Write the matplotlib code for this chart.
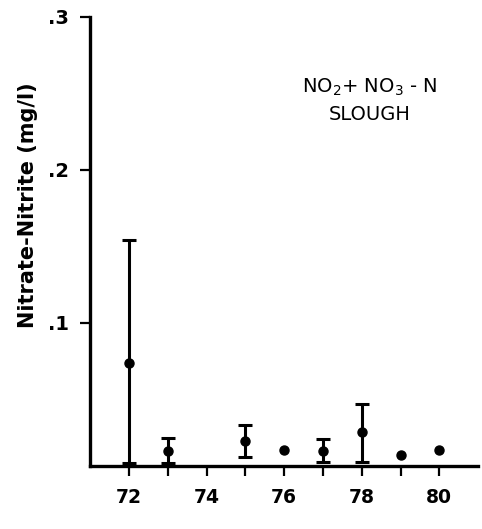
import matplotlib
matplotlib.use('Agg')
import matplotlib.pyplot as plt

years = [72, 73, 75, 76, 77, 78, 79, 80]
means = [0.074, 0.0165, 0.023, 0.017, 0.0165, 0.029, 0.0137, 0.017]
upper = [0.154, 0.0248, 0.0333, None, 0.0242, 0.047, None, None]
lower = [0.0085, 0.0085, 0.0124, None, 0.0092, 0.0092, None, None]

yticks = [0.1, 0.2, 0.3]
ytick_labels = ['.1', '.2', '.3']
xticks = [72, 73, 74, 75, 76, 77, 78, 79, 80]
xtick_labels = ['72', '', '74', '', '76', '', '78', '', '80']

fig = plt.figure(figsize=(4.82, 5.29), dpi=100)
ax = fig.add_axes([0.187, 0.119, 0.805, 0.849])

# points with error bars
ex, ey, elo, ehi = [], [], [], []
for x, m, u, l in zip(years, means, upper, lower):
    if u is not None:
        ex.append(x)
        ey.append(m)
        elo.append(m - l)
        ehi.append(u - m)
ax.errorbar(ex, ey, yerr=[elo, ehi], fmt='none', ecolor='black',
            elinewidth=2.2, capsize=5, capthick=2.2)
ax.plot(years, means, 'o', color='black', markersize=6.5)

ax.set_xlim(71, 81)
ax.set_ylim(0.0065, 0.3)
ax.set_xticks(xticks)
ax.set_xticklabels(xtick_labels, fontsize=13.5, fontweight='bold')
ax.set_yticks(yticks)
ax.set_yticklabels(ytick_labels, fontsize=14, fontweight='bold')

for s in ['top', 'right']:
    ax.spines[s].set_visible(False)
for s in ['left', 'bottom']:
    ax.spines[s].set_linewidth(2.4)
ax.tick_params(axis='both', width=1.6, length=7, direction='out')
ax.tick_params(axis='x', pad=9)
ax.tick_params(axis='y', pad=8)

ax.set_ylabel('Nitrate-Nitrite (mg/l)', fontsize=15, fontweight='bold')
ax.yaxis.set_label_coords(-0.135, 0.58)

ax.text(78.2, 0.254, r'NO$_2$+ NO$_3$ - N', fontsize=14, ha='center', va='center')
ax.text(78.2, 0.236, 'SLOUGH', fontsize=14, ha='center', va='center')

fig.savefig('out.png', dpi=100)
